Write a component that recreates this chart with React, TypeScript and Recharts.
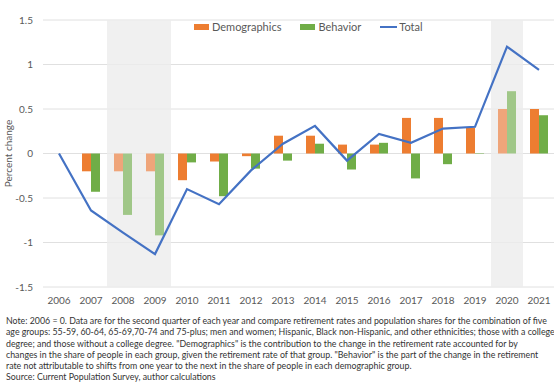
import {
  ComposedChart,
  XAxis,
  YAxis,
  CartesianGrid,
  Legend,
  Bar,
  Line,
  Cell,
  ReferenceArea,
} from "recharts";

const years = [
  "2006", "2007", "2008", "2009", "2010", "2011", "2012", "2013",
  "2014", "2015", "2016", "2017", "2018", "2019", "2020", "2021",
];
const demographics = [
  0, -0.2, -0.2, -0.2, -0.3, -0.09, -0.03, 0.2, 0.2, 0.1, 0.1, 0.4, 0.4, 0.29, 0.5, 0.5,
];
const behavior = [
  0, -0.43, -0.69, -0.92, -0.1, -0.48, -0.17, -0.08, 0.11, -0.18, 0.12, -0.28, -0.12, 0.005, 0.7, 0.43,
];
const total = [
  0, -0.64, -0.89, -1.13, -0.4, -0.57, -0.19, 0.11, 0.31, -0.08, 0.22, 0.12, 0.28, 0.3, 1.2, 0.94,
];
const recessionYears = ["2008", "2009", "2020"];
const yTicks = [-1.5, -1, -0.5, 0, 0.5, 1, 1.5];

const noteLines = [
  "Note: 2006 = 0. Data are for the second quarter of each year and compare retirement rates and population shares for the combination of five",
  "age groups: 55-59, 60-64, 65-69,70-74 and 75-plus; men and women; Hispanic, Black non-Hispanic, and other ethnicities; those with a college",
  "degree; and those without a college degree. \"Demographics\" is the contribution to the change in the retirement rate accounted for by",
  "changes in the share of people in each group, given the retirement rate of that group. \"Behavior\" is the part of the change in the retirement",
  "rate not attributable to shifts from one year to the next in the share of people in each demographic group.",
  "Source: Current Population Survey, author calculations",
];

const data = years.map((year, i) => ({
  year,
  demographics: demographics[i],
  behavior: behavior[i],
  total: total[i],
}));

const FONT = "Lato, 'Open Sans', sans-serif";
const GRAY = "#595959";

const LegendBox = () => (
  <div
    style={{
      display: "flex",
      alignItems: "center",
      fontFamily: FONT,
      fontSize: 11,
      color: GRAY,
      marginLeft: 194,
    }}
  >
    <span style={{ width: 15, height: 6, background: "#ED7D31", marginRight: 3 }} />
    <span style={{ marginRight: 19 }}>Demographics</span>
    <span style={{ width: 15, height: 6, background: "#70AD47", marginRight: 3 }} />
    <span style={{ marginRight: 19 }}>Behavior</span>
    <span style={{ width: 17, height: 2, background: "#4472C4", marginRight: 2 }} />
    <span>Total</span>
  </div>
);

export default function App() {
  return (
    <div
      style={{
        position: "absolute",
        left: 0,
        top: 0,
        width: 554,
        height: 384,
        overflow: "hidden",
        background: "#fff",
      }}
    >
      <ComposedChart
        width={560}
        height={310}
        data={data}
        margin={{ top: 7, right: 5, bottom: 0, left: 0 }}
        barGap={0}
        barSize={9}
      >
        <ReferenceArea x1="2008" x2="2009" y1={-1.5} y2={1.5} fill="#ececec" fillOpacity={0.8} />
        <ReferenceArea x1="2020" x2="2020" y1={-1.5} y2={1.5} fill="#ececec" fillOpacity={0.8} />
        <CartesianGrid vertical={false} stroke="#e0e0e0" />
        <XAxis
          dataKey="year"
          axisLine={false}
          tickLine={false}
          tickSize={0}
          tickMargin={10}
          height={23}
          interval={0}
          tick={{ fontSize: 10, fill: GRAY, fontFamily: FONT }}
        />
        <YAxis
          domain={[-1.5, 1.5]}
          ticks={yTicks}
          axisLine={false}
          tickLine={false}
          tickSize={0}
          tickMargin={10}
          width={43}
          tick={{ fontSize: 10, fill: GRAY, fontFamily: FONT }}
          label={{
            value: "Percent change",
            angle: -90,
            position: "insideLeft",
            offset: 0,
            dx: 8,
            style: { fontSize: 10, fill: GRAY, fontFamily: FONT, textAnchor: "middle" },
          }}
        />
        <Legend
          verticalAlign="top"
          content={() => <LegendBox />}
          wrapperStyle={{ top: 20, left: 0, width: 560 }}
        />
        <Bar dataKey="demographics" fill="#ED7D31" isAnimationActive={false}>
          {data.map((d) => (
            <Cell key={d.year} fill={recessionYears.includes(d.year) ? "#EFA57A" : "#ED7D31"} />
          ))}
        </Bar>
        <Bar dataKey="behavior" fill="#70AD47" isAnimationActive={false}>
          {data.map((d) => (
            <Cell key={d.year} fill={recessionYears.includes(d.year) ? "#A0C788" : "#70AD47"} />
          ))}
        </Bar>
        <Line
          type="linear"
          dataKey="total"
          stroke="#4472C4"
          strokeWidth={2.2}
          dot={false}
          isAnimationActive={false}
        />
      </ComposedChart>
      <div
        style={{
          position: "absolute",
          left: 6,
          top: 315,
          fontFamily: FONT,
          fontSize: 8.8,
          lineHeight: "11.3px",
          color: "#333",
          whiteSpace: "nowrap",
        }}
      >
        {noteLines.map((line) => (
          <div key={line}>{line}</div>
        ))}
      </div>
    </div>
  );
}
